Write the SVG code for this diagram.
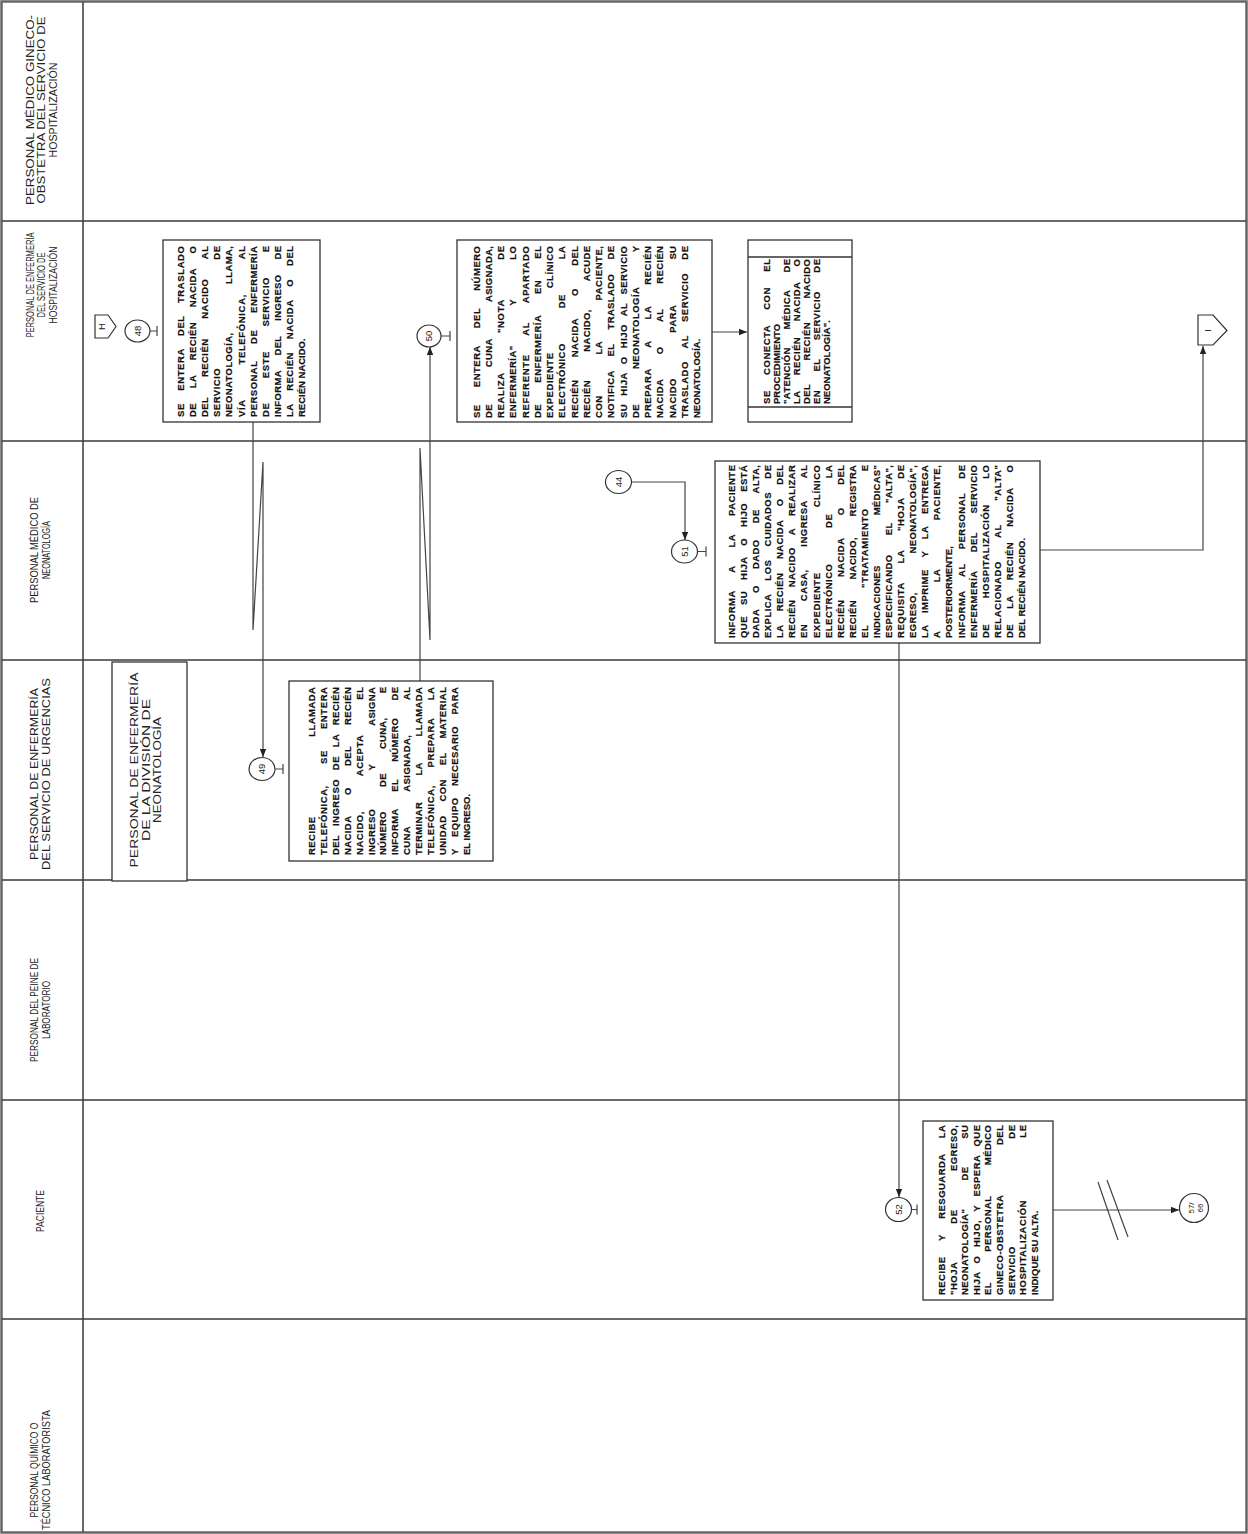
<svg xmlns="http://www.w3.org/2000/svg" width="1248" height="1534" viewBox="0 0 1248 1534">
<style>
.frame{fill:#fff;stroke:#666;stroke-width:2.5}
.lane{stroke:#3a3a3a;stroke-width:1.5;fill:none}
.box{fill:#fff;stroke:#333;stroke-width:1.3}
.t{font-family:"Liberation Sans",Arial,sans-serif;font-size:9.5px;font-weight:bold;fill:#111;stroke:#111;stroke-width:0.2}
.h{font-family:"Liberation Sans",Arial,sans-serif;font-size:10px;fill:#222;text-anchor:middle}
.c{fill:#fff;stroke:#333;stroke-width:1.2}
.cn{font-family:"Liberation Sans",Arial,sans-serif;font-size:9.5px;fill:#222;text-anchor:middle}
.ln{fill:none;stroke:#444;stroke-width:1.2}
.ar{fill:none;stroke:#444;stroke-width:1.2;marker-end:url(#ah)}
</style>
<defs>
<marker id="ah" viewBox="0 0 10 10" refX="10" refY="5" markerWidth="8" markerHeight="8" orient="auto" markerUnits="userSpaceOnUse"><path d="M0,1 L10,5 L0,9 z" fill="#222"/></marker>
</defs>
<rect width="1248" height="1534" fill="#fff"/>
<g id="lanes">
<rect class="frame" x="1.5" y="1.5" width="1245" height="1531"/>
<line class="lane" x1="83" y1="2" x2="83" y2="1532"/>
<line class="lane" x1="2" y1="221" x2="1246" y2="221"/>
<line class="lane" x1="2" y1="441" x2="1246" y2="441"/>
<line class="lane" x1="2" y1="660" x2="1246" y2="660"/>
<line class="lane" x1="2" y1="880" x2="1246" y2="880"/>
<line class="lane" x1="2" y1="1100" x2="1246" y2="1100"/>
<line class="lane" x1="2" y1="1319" x2="1246" y2="1319"/>
</g>
<g id="lane-headers">
<g transform="translate(0,110) rotate(-90)" class="h">
<text x="0" y="33.5" textLength="190" lengthAdjust="spacingAndGlyphs">PERSONAL MÉDICO GINECO-</text>
<text x="0" y="45" textLength="187" lengthAdjust="spacingAndGlyphs">OBSTETRA DEL SERVICIO DE</text>
<text x="0" y="56.5" textLength="95" lengthAdjust="spacingAndGlyphs">HOSPITALIZACIÓN</text>
</g>
<g transform="translate(0,285) rotate(-90)" class="h">
<text x="0" y="33.5" textLength="105" lengthAdjust="spacingAndGlyphs">PERSONAL DE ENFERMERÍA</text>
<text x="0" y="45" textLength="65" lengthAdjust="spacingAndGlyphs">DEL SERVICIO DE</text>
<text x="0" y="56.5" textLength="77" lengthAdjust="spacingAndGlyphs">HOSPITALIZACIÓN</text>
</g>
<g transform="translate(0,550) rotate(-90)" class="h">
<text x="0" y="38" textLength="106" lengthAdjust="spacingAndGlyphs">PERSONAL MÉDICO DE</text>
<text x="0" y="49.5" textLength="58" lengthAdjust="spacingAndGlyphs">NEONATOLOGÍA</text>
</g>
<g transform="translate(0,774) rotate(-90)" class="h">
<text x="0" y="38" textLength="172" lengthAdjust="spacingAndGlyphs">PERSONAL DE ENFERMERÍA</text>
<text x="0" y="49.5" textLength="192" lengthAdjust="spacingAndGlyphs">DEL SERVICIO DE URGENCIAS</text>
</g>
<g transform="translate(0,1010) rotate(-90)" class="h">
<text x="0" y="38" textLength="104" lengthAdjust="spacingAndGlyphs">PERSONAL DEL PEINE DE</text>
<text x="0" y="49.5" textLength="58" lengthAdjust="spacingAndGlyphs">LABORATORIO</text>
</g>
<g transform="translate(0,1211) rotate(-90)" class="h">
<text x="0" y="44" textLength="42" lengthAdjust="spacingAndGlyphs">PACIENTE</text>
</g>
<g transform="translate(0,1470) rotate(-90)" class="h">
<text x="0" y="38" textLength="95" lengthAdjust="spacingAndGlyphs">PERSONAL QUÍMICO O</text>
<text x="0" y="49.5" textLength="120" lengthAdjust="spacingAndGlyphs">TÉCNICO LABORATORISTA</text>
</g>
</g>
<g id="connectors">
<path class="ar" d="M253,422 V630 L263,462 V757"/>
<path class="ar" d="M420,681 V448 L430,640 V347"/>
<path class="ar" d="M712,332 H747"/>
<path class="ar" d="M631,482 H685 V540"/>
<path class="ar" d="M1040,550 H1203 V346"/>
<path class="ar" d="M899,643 V1197"/>
<path class="ar" d="M1053,1210 H1179"/>
<path class="ln" d="M1098,1182 L1118,1240 M1107,1180 L1128,1237"/>
</g>
<g id="offpage-H">
<path class="c" d="M95,315 H108 L116,326.5 L108,338 H95 Z"/>
<text class="cn" transform="translate(102,326.5) rotate(-90)" y="3.3">H</text>
</g>
<g id="offpage-I">
<path class="c" d="M1198,315 H1213 L1227,330.5 L1213,345 H1198 Z"/>
<text class="cn" transform="translate(1208,330.5) rotate(-90)" y="3.3">I</text>
</g>
<g id="c48">
<ellipse class="c" cx="137.5" cy="331" rx="12.5" ry="11"/>
<path class="ln" d="M150,331 H157 M157,326 V336"/>
<text class="cn" transform="translate(137.5,331) rotate(-90)" y="3.3">48</text>
</g>
<g id="n48">
<rect class="box" x="163" y="240" width="157" height="182"/>
<g class="t" transform="translate(184,417) rotate(-90)">
<text y="0" textLength="171" style="word-spacing:9.1px">SE ENTERA DEL TRASLADO</text>
<text y="12.1" textLength="171" style="word-spacing:11.8px">DE LA RECIÉN NACIDA O</text>
<text y="24.2" textLength="171" style="word-spacing:16.7px">DEL RECIÉN NACIDO AL</text>
<text y="36.3" textLength="171" style="word-spacing:105px">SERVICIO DE</text>
<text y="48.4" textLength="171" style="word-spacing:45.6px">NEONATOLOGÍA, LLAMA,</text>
<text y="60.5" textLength="171" style="word-spacing:31.8px">VÍA TELEFÓNICA, AL</text>
<text y="72.6" textLength="171" style="word-spacing:13.8px">PERSONAL DE ENFERMERÍA</text>
<text y="84.7" textLength="171" style="word-spacing:21.4px">DE ESTE SERVICIO E</text>
<text y="96.8" textLength="171" style="word-spacing:11.8px">INFORMA DEL INGRESO DE</text>
<text y="108.9" textLength="171" style="word-spacing:10px">LA RECIÉN NACIDA O DEL</text>
<text y="121">RECIÉN NACIDO.</text>
</g>
</g>
<g id="c50">
<ellipse class="c" cx="429" cy="336" rx="12" ry="11"/>
<path class="ln" d="M441,336 H450 M450,331 V341"/>
<text class="cn" transform="translate(429,336) rotate(-90)" y="3.3">50</text>
</g>
<g id="n50">
<rect class="box" x="457" y="240" width="255" height="182"/>
<g class="t" transform="translate(479.5,418) rotate(-90)">
<text y="0" textLength="172" style="word-spacing:14px">SE ENTERA DEL NÚMERO</text>
<text y="12.25" textLength="172" style="word-spacing:34px">DE CUNA ASIGNADA,</text>
<text y="24.5" textLength="172" style="word-spacing:36.3px">REALIZA "NOTA DE</text>
<text y="36.75" textLength="172" style="word-spacing:36.3px">ENFERMERÍA" Y LO</text>
<text y="49" textLength="172" style="word-spacing:15.5px">REFERENTE AL APARTADO</text>
<text y="61.25" textLength="172" style="word-spacing:17.9px">DE ENFERMERÍA EN EL</text>
<text y="73.5" textLength="172" style="word-spacing:61px">EXPEDIENTE CLÍNICO</text>
<text y="85.75" textLength="172" style="word-spacing:31.7px">ELECTRÓNICO DE LA</text>
<text y="98" textLength="172" style="word-spacing:19.4px">RECIÉN NACIDA O DEL</text>
<text y="110.25" textLength="172" style="word-spacing:25.5px">RECIÉN NACIDO, ACUDE</text>
<text y="122.5" textLength="172" style="word-spacing:37.4px">CON LA PACIENTE,</text>
<text y="134.75" textLength="172" style="word-spacing:11.3px">NOTIFICA EL TRASLADO DE</text>
<text y="147" textLength="172" style="word-spacing:5.1px">SU HIJA O HIJO AL SERVICIO</text>
<text y="159.25" textLength="172" style="word-spacing:31.7px">DE NEONATOLOGÍA Y</text>
<text y="171.5" textLength="172" style="word-spacing:17.9px">PREPARA A LA RECIÉN</text>
<text y="183.75" textLength="172" style="word-spacing:21.9px">NACIDA O AL RECIÉN</text>
<text y="196" textLength="172" style="word-spacing:42.6px">NACIDO PARA SU</text>
<text y="208.25" textLength="172" style="word-spacing:9.9px">TRASLADO AL SERVICIO DE</text>
<text y="220.5">NEONATOLOGÍA.</text>
</g>
</g>
<g id="n-conecta">
<rect class="box" x="748" y="240" width="104" height="182"/>
<line class="box" x1="748" y1="257" x2="852" y2="257"/>
<line class="box" x1="748" y1="407" x2="852" y2="407"/>
<g class="t" transform="translate(770,404) rotate(-90)">
<text y="0" textLength="145" style="word-spacing:12.1px">SE CONECTA CON EL</text>
<text y="10">PROCEDIMIENTO</text>
<text y="20" textLength="145" style="word-spacing:14.6px">"ATENCIÓN MÉDICA DE</text>
<text y="30" textLength="145" style="word-spacing:12.7px">LA RECIÉN NACIDA O</text>
<text y="40" textLength="145" style="word-spacing:20.4px">DEL RECIÉN NACIDO</text>
<text y="50" textLength="145" style="word-spacing:15.1px">EN EL SERVICIO DE</text>
<text y="60">NEONATOLOGÍA".</text>
</g>
</g>
<g id="c44">
<ellipse class="c" cx="618.5" cy="482" rx="13" ry="11.5"/>
<text class="cn" transform="translate(618.5,482) rotate(-90)" y="3.3">44</text>
</g>
<g id="c51">
<ellipse class="c" cx="684.5" cy="551.5" rx="13" ry="11.5"/>
<path class="ln" d="M697.5,551.5 H706 M706,546.5 V556.5"/>
<text class="cn" transform="translate(684.5,551.5) rotate(-90)" y="3.3">51</text>
</g>
<g id="n51">
<rect class="box" x="715" y="461" width="325" height="182"/>
<g class="t" transform="translate(735,638) rotate(-90)">
<text y="0" textLength="173" style="word-spacing:15px">INFORMA A LA PACIENTE</text>
<text y="12.08" textLength="173" style="word-spacing:7.8px">QUE SU HIJA O HIJO ESTÁ</text>
<text y="24.16" textLength="173" style="word-spacing:13px">DADA O DADO DE ALTA,</text>
<text y="36.24" textLength="173" style="word-spacing:10.2px">EXPLICA LOS CUIDADOS DE</text>
<text y="48.32" textLength="173" style="word-spacing:10.6px">LA RECIÉN NACIDA O DEL</text>
<text y="60.4" textLength="173" style="word-spacing:9.3px">RECIÉN NACIDO A REALIZAR</text>
<text y="72.48" textLength="173" style="word-spacing:19.6px">EN CASA, INGRESA AL</text>
<text y="84.56" textLength="173" style="word-spacing:62px">EXPEDIENTE CLÍNICO</text>
<text y="96.64" textLength="173" style="word-spacing:32.5px">ELECTRÓNICO DE LA</text>
<text y="108.72" textLength="173" style="word-spacing:19.6px">RECIÉN NACIDA O DEL</text>
<text y="120.8" textLength="173" style="word-spacing:17.6px">RECIÉN NACIDO, REGISTRA</text>
<text y="132.88" textLength="173" style="word-spacing:33.6px">EL "TRATAMIENTO E</text>
<text y="144.96" textLength="173" style="word-spacing:47.2px">INDICACIONES MÉDICAS"</text>
<text y="157.04" textLength="173" style="word-spacing:16.2px">ESPECIFICANDO EL "ALTA",</text>
<text y="169.12" textLength="173" style="word-spacing:15.8px">REQUISITA LA "HOJA DE</text>
<text y="181.2" textLength="173" style="word-spacing:35.8px">EGRESO, NEONATOLOGÍA",</text>
<text y="193.28" textLength="173" style="word-spacing:8.8px">LA IMPRIME Y LA ENTREGA</text>
<text y="205.36" textLength="173" style="word-spacing:45.2px">A LA PACIENTE,</text>
<text y="217.44">POSTERIORMENTE,</text>
<text y="229.52" textLength="173" style="word-spacing:11.1px">INFORMA AL PERSONAL DE</text>
<text y="241.6" textLength="173" style="word-spacing:15.3px">ENFERMERÍA DEL SERVICIO</text>
<text y="253.68" textLength="173" style="word-spacing:22.4px">DE HOSPITALIZACIÓN LO</text>
<text y="265.76" textLength="173" style="word-spacing:20.4px">RELACIONADO AL "ALTA"</text>
<text y="277.84" textLength="173" style="word-spacing:12.4px">DE LA RECIÉN NACIDA O</text>
<text y="289.92">DEL RECIÉN NACIDO.</text>
</g>
</g>
<g id="n-division">
<rect class="box" x="112" y="662" width="75" height="219"/>
<g class="h" transform="translate(0,770) rotate(-90)" style="font-size:10.5px">
<text x="0" y="137.5" textLength="195" lengthAdjust="spacingAndGlyphs">PERSONAL DE ENFERMERÍA</text>
<text x="0" y="149.5" textLength="142" lengthAdjust="spacingAndGlyphs">DE LA DIVISIÓN DE</text>
<text x="0" y="160.5" textLength="106" lengthAdjust="spacingAndGlyphs">NEONATOLOGÍA</text>
</g>
</g>
<g id="c49">
<ellipse class="c" cx="262" cy="769" rx="13" ry="11.5"/>
<path class="ln" d="M275,769 H283 M283,764 V774"/>
<text class="cn" transform="translate(262,769) rotate(-90)" y="3.3">49</text>
</g>
<g id="n49">
<rect class="box" x="289" y="681" width="204" height="180"/>
<g class="t" transform="translate(315,855) rotate(-90)">
<text y="0" textLength="168" style="word-spacing:76.5px">RECIBE LLAMADA</text>
<text y="11.9" textLength="168" style="word-spacing:17.9px">TELEFÓNICA, SE ENTERA</text>
<text y="23.8" textLength="168" style="word-spacing:5.7px">DEL INGRESO DE LA RECIÉN</text>
<text y="35.7" textLength="168" style="word-spacing:18px">NACIDA O DEL RECIÉN</text>
<text y="47.6" textLength="168" style="word-spacing:32px">NACIDO, ACEPTA EL</text>
<text y="59.5" textLength="168" style="word-spacing:35.4px">INGRESO Y ASIGNA</text>
<text y="71.4" textLength="168" style="word-spacing:21.4px">NÚMERO DE CUNA, E</text>
<text y="83.3" textLength="168" style="word-spacing:14.2px">INFORMA EL NÚMERO DE</text>
<text y="95.2" textLength="168" style="word-spacing:32px">CUNA ASIGNADA, AL</text>
<text y="107.1" textLength="168" style="word-spacing:23px">TERMINAR LA LLAMADA</text>
<text y="119" textLength="168" style="word-spacing:14.3px">TELEFÓNICA, PREPARA LA</text>
<text y="130.9" textLength="168" style="word-spacing:10.8px">UNIDAD CON EL MATERIAL</text>
<text y="142.8" textLength="168" style="word-spacing:8.5px">Y EQUIPO NECESARIO PARA</text>
<text y="154.7">EL INGRESO.</text>
</g>
</g>
<g id="c52">
<ellipse class="c" cx="898.5" cy="1209.5" rx="13" ry="12"/>
<path class="ln" d="M911.5,1209.5 H917 M917,1204.5 V1214.5"/>
<text class="cn" transform="translate(898.5,1209.5) rotate(-90)" y="3.3">52</text>
</g>
<g id="n52">
<rect class="box" x="923" y="1121" width="130" height="179"/>
<g class="t" transform="translate(945,1295) rotate(-90)">
<text y="0" textLength="170" style="word-spacing:12.5px">RECIBE Y RESGUARDA LA</text>
<text y="11.6" textLength="170" style="word-spacing:35.3px">"HOJA DE EGRESO,</text>
<text y="23.2" textLength="170" style="word-spacing:24.9px">NEONATOLOGÍA" DE SU</text>
<text y="34.8" textLength="170" style="word-spacing:5.3px">HIJA O HIJO, Y ESPERA QUE</text>
<text y="46.4" textLength="170" style="word-spacing:27.4px">EL PERSONAL MÉDICO</text>
<text y="58" textLength="170" style="word-spacing:46.8px">GINECO-OBSTETRA DEL</text>
<text y="69.6" textLength="170" style="word-spacing:104.5px">SERVICIO DE</text>
<text y="81.2" textLength="170" style="word-spacing:59px">HOSPITALIZACIÓN LE</text>
<text y="92.8">INDIQUE SU ALTA.</text>
</g>
</g>
<g id="c57-66">
<ellipse class="c" cx="1194" cy="1208" rx="14.5" ry="14.5"/>
<g class="cn" transform="translate(1194,1208) rotate(-90)" style="font-size:8px">
<text y="-0.5">57/</text>
<text y="8.5">66</text>
</g>
</g>
</svg>
